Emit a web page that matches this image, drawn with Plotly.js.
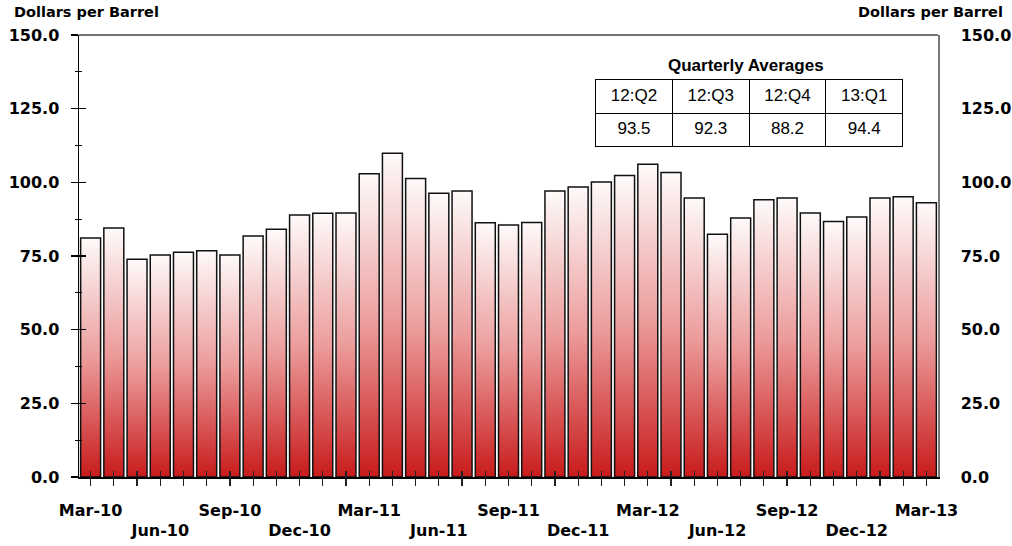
<!DOCTYPE html>
<html>
<head>
<meta charset="utf-8">
<script src="https://cdn.plot.ly/plotly-3.0.1.min.js"></script>
<style>html,body{margin:0;padding:0;background:#fff;}#chart{width:1012px;height:546px;}</style>
</head>
<body>
<div id="chart"></div>
<script>
// ---- data ----
const months = ["Mar-10","Apr-10","May-10","Jun-10","Jul-10","Aug-10","Sep-10","Oct-10","Nov-10","Dec-10","Jan-11","Feb-11",
  "Mar-11","Apr-11","May-11","Jun-11","Jul-11","Aug-11","Sep-11","Oct-11","Nov-11","Dec-11","Jan-12","Feb-12",
  "Mar-12","Apr-12","May-12","Jun-12","Jul-12","Aug-12","Sep-12","Oct-12","Nov-12","Dec-12","Jan-13","Feb-13","Mar-13"];
const prices = [81.1,84.5,73.9,75.3,76.3,76.8,75.3,81.8,84.1,88.9,89.5,89.6,
  102.9,109.9,101.3,96.3,97.1,86.3,85.5,86.4,97.1,98.4,100.1,102.3,
  106.1,103.3,94.7,82.4,87.9,94.1,94.7,89.6,86.7,88.2,94.7,95.1,93.1];
const row1Labels = ["Mar-10","Sep-10","Mar-11","Sep-11","Mar-12","Sep-12","Mar-13"];
const row2Labels = ["Jun-10","Dec-10","Jun-11","Dec-11","Jun-12","Dec-12"];
const quarterLabels = ["12:Q2","12:Q3","12:Q4","13:Q1"];
const quarterAvg = [93.5, 92.3, 88.2, 94.4];
const yTicks = [0, 25, 50, 75, 100, 125, 150];
const yTitle = "Dollars per Barrel";
const tableTitle = "Quarterly Averages";

// ---- chart ----
const axFont = {family: "DejaVu Sans, Arial", size: 16, weight: "bold", color: "#000"};
const idx = months.map((m, i) => i);

const traces = [
  {type: "bar", x: months, y: prices, xaxis: "x", yaxis: "y",
   marker: {color: "#c91c1c", line: {color: "#111", width: 1.5}},
   hoverinfo: "x+y", showlegend: false},
  {type: "scatter", mode: "markers", x: [], y: [], xaxis: "x2", yaxis: "y3", showlegend: false, hoverinfo: "skip"},
  {type: "scatter", mode: "markers", x: [], y: [], xaxis: "x", yaxis: "y2", showlegend: false, hoverinfo: "skip"},
  {type: "table",
   domain: {x: [0.6014, 0.9592], y: [0.7466, 0.8982]},
   columnwidth: quarterLabels.map(() => 1),
   header: {values: quarterLabels, align: "center", height: 33.5,
            line: {color: "#000", width: 1}, fill: {color: "#fff"},
            font: {family: "Liberation Sans, Arial", size: 17, color: "#000"}},
   cells: {values: quarterAvg.map(v => [v.toFixed(1)]), align: "center", height: 33.5,
           line: {color: "#000", width: 1}, fill: {color: "#fff"},
           font: {family: "Liberation Sans, Arial", size: 17, color: "#000"}}}
];

const layout = {
  width: 1012, height: 546,
  margin: {l: 79, r: 74, t: 35, b: 69, pad: 0},
  paper_bgcolor: "#fff", plot_bgcolor: "#fff",
  showlegend: false, bargap: 0.14,
  font: {family: "DejaVu Sans, Arial", color: "#000"},
  xaxis: {type: "category", range: [-0.5, 36.5], tickmode: "array", tickvals: months,
          ticktext: months.map(m => row1Labels.includes(m) ? m : ""),
          ticks: "outside", ticklen: 7, tickwidth: 1.2, tickcolor: "#222",
          showline: true, linecolor: "#000", linewidth: 1.5,
          showgrid: false, zeroline: false, tickfont: axFont, ticklabelstandoff: 11, fixedrange: true},
  xaxis2: {type: "linear", overlaying: "x", anchor: "y", range: [-0.5, 36.5], tickmode: "array", tickvals: idx,
           ticktext: months.map(m => row2Labels.includes(m) ? m : ""),
           ticks: "inside", ticklen: 6, tickwidth: 1.2, tickcolor: "#222",
           showline: false, showgrid: false, zeroline: false, tickfont: axFont, ticklabelstandoff: 42},
  yaxis: {range: [0, 150], tickmode: "array", tickvals: yTicks, tickformat: ".1f",
          ticks: "outside", ticklen: 7, tickwidth: 1.2, tickcolor: "#000",
          minor: {dtick: 12.5, ticks: "outside", ticklen: 3, tickwidth: 1.2, tickcolor: "#000"},
          showline: true, linecolor: "#000", linewidth: 1.5,
          showgrid: false, zeroline: false, tickfont: axFont, ticklabelstandoff: 8},
  yaxis3: {range: [0, 150], overlaying: "y", anchor: "x2", tickmode: "array", tickvals: yTicks,
           ticks: "inside", ticklen: 7, tickwidth: 1.2, tickcolor: "#000",
           minor: {dtick: 12.5, ticks: "inside", ticklen: 3, tickwidth: 1.2, tickcolor: "#000"},
           showticklabels: false, showline: false, showgrid: false, zeroline: false},
  yaxis2: {range: [0, 150], overlaying: "y", side: "right", anchor: "x", tickmode: "array", tickvals: yTicks,
           tickformat: ".1f", ticks: "", showline: true, linecolor: "#777", linewidth: 1.5,
           showgrid: false, zeroline: false, tickfont: axFont, ticklabelstandoff: 18},
  shapes: [{type: "line", xref: "paper", yref: "paper", x0: 0, x1: 1, y0: 1, y1: 1,
            line: {color: "#444", width: 1.5}}],
  annotations: [
    {text: yTitle, xref: "paper", yref: "paper", x: -0.078, y: 1.052, xanchor: "left", yanchor: "middle",
     showarrow: false, font: {family: "DejaVu Sans, Arial", size: 14.5, weight: "bold", color: "#000"}},
    {text: yTitle, xref: "paper", yref: "paper", x: 1.078, y: 1.052, xanchor: "right", yanchor: "middle",
     showarrow: false, font: {family: "DejaVu Sans, Arial", size: 14.5, weight: "bold", color: "#000"}},
    {text: tableTitle, xref: "paper", yref: "paper", x: 0.776, y: 0.932, xanchor: "center", yanchor: "middle",
     showarrow: false, font: {family: "Liberation Sans, Arial", size: 17, weight: "bold", color: "#000"}}
  ]
};

Plotly.newPlot("chart", traces, layout, {displayModeBar: false, staticPlot: true}).then(gd => {
  const ns = "http://www.w3.org/2000/svg";
  const svg = gd.querySelector(".main-svg");
  let defs = svg.querySelector("defs");
  if (!defs) { defs = document.createElementNS(ns, "defs"); svg.insertBefore(defs, svg.firstChild); }
  const grad = document.createElementNS(ns, "linearGradient");
  grad.setAttribute("id", "barGrad");
  grad.setAttribute("x1", "0"); grad.setAttribute("y1", "0");
  grad.setAttribute("x2", "0"); grad.setAttribute("y2", "1");
  [["0", "#fefafa"], ["0.5", "#ec9c9c"], ["1", "#c81b1b"]].forEach(([o, c]) => {
    const s = document.createElementNS(ns, "stop");
    s.setAttribute("offset", o); s.setAttribute("stop-color", c);
    grad.appendChild(s);
  });
  defs.appendChild(grad);
  const pat = document.createElementNS(ns, "pattern");
  pat.setAttribute("id", "barStripes");
  pat.setAttribute("patternUnits", "userSpaceOnUse");
  pat.setAttribute("width", "4"); pat.setAttribute("height", "4");
  const pp = document.createElementNS(ns, "path");
  pp.setAttribute("d", "M0,0 L4,4 M-1,3 L1,5 M3,-1 L5,1");
  pp.setAttribute("stroke", "#ffffff"); pp.setAttribute("stroke-opacity", "0.35");
  pp.setAttribute("stroke-width", "0.7");
  pat.appendChild(pp);
  defs.appendChild(pat);
  gd.querySelectorAll(".barlayer .point path").forEach(p => {
    p.style.fill = "url(#barGrad)";
    p.style.fillOpacity = "1";
    const c = p.cloneNode(true);
    c.style.fill = "url(#barStripes)";
    c.style.stroke = "none";
    p.parentNode.insertBefore(c, p);
    p.parentNode.appendChild(p);
  });
});
</script>
</body>
</html>
